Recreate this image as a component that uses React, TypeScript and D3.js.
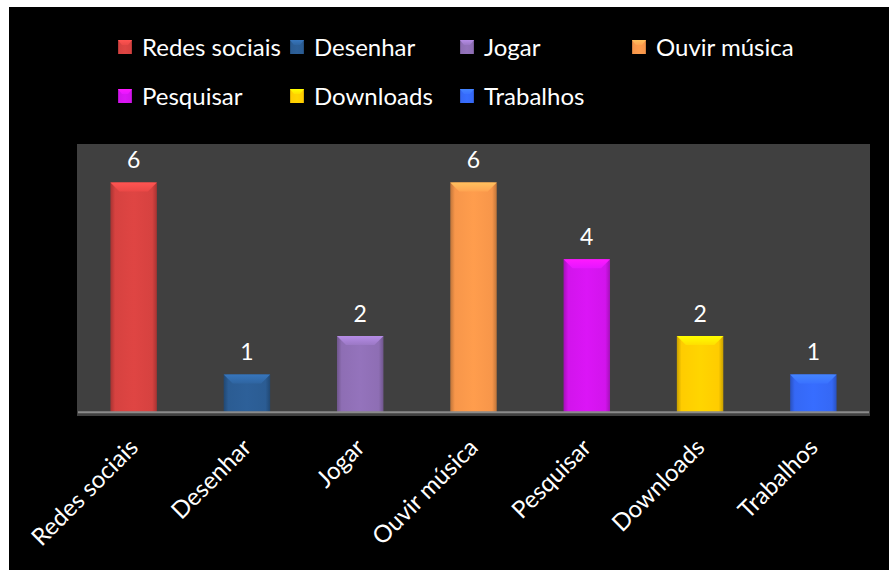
import React, { useEffect } from "react";
import * as d3 from "d3";

const categories = ["Redes sociais", "Desenhar", "Jogar", "Ouvir música", "Pesquisar", "Downloads", "Trabalhos"];
const values = [6, 1, 2, 6, 4, 2, 1];
const colors = ["#D64240", "#2B5C93", "#8E6EB4", "#F7964A", "#D214EC", "#FFCC00", "#3568F5"];
const yDomain = [0, 7];

const FONT = "Lato, 'Open Sans', sans-serif";

export default function App() {
  useEffect(() => {
    document.documentElement.style.background = "#000";
    document.body.style.background = "#000";
    document.body.style.overflow = "hidden";
  }, []);

  const W = 889, H = 570;
  const plot = { x0: 77, x1: 870, y0: 144, y1: 416 };
  const baseY = 412.8;
  const x = d3.scaleBand<string>().domain(categories).range([plot.x0, plot.x1]).paddingInner(0.59).paddingOuter(0.295);
  const y = d3.scaleLinear().domain(yDomain).range([baseY, plot.y0]);
  const bw = x.bandwidth();

  const legendCols = [118, 290, 460, 632];
  const legendRows = [56, 105];

  const lighten = (c: string, k: number) => d3.color(c)!.brighter(k).formatHex();
  const darken = (c: string, k: number) => d3.color(c)!.darker(k).formatHex();

  return (
    <svg width={W} height={H} style={{ position: "absolute", left: 0, top: 0, display: "block" }} fontFamily={FONT}>
      <defs>
        {colors.map((c, i) => (
          <linearGradient key={i} id={`g${i}`} x1="0" x2="1" y1="0" y2="0">
            <stop offset="0" stopColor={darken(c, 0.7)} />
            <stop offset="0.1" stopColor={c} />
            <stop offset="0.5" stopColor={lighten(c, 0.12)} />
            <stop offset="0.9" stopColor={c} />
            <stop offset="1" stopColor={darken(c, 0.7)} />
          </linearGradient>
        ))}
        {colors.map((c, i) => (
          <linearGradient key={"t" + i} id={`t${i}`} x1="0" x2="0" y1="0" y2="1">
            <stop offset="0" stopColor={lighten(c, 0.7)} />
            <stop offset="1" stopColor={lighten(c, 0.25)} />
          </linearGradient>
        ))}
      </defs>
      <rect x={0} y={0} width={W} height={H} fill="#fff" />
      <rect x={9} y={7} width={W - 9} height={H - 7} fill="#000" />
      <rect x={plot.x0} y={plot.y0} width={plot.x1 - plot.x0} height={plot.y1 - plot.y0} fill="#404040" />

      {categories.map((cat, i) => {
        const bx = x(cat)!;
        const top = y(values[i]);
        const h = baseY - top;
        const bev = Math.min(9, h / 3);
        return (
          <g key={cat}>
            <rect x={bx} y={top} width={bw} height={h} fill={`url(#g${i})`} />
            <path
              d={`M${bx},${top}L${bx + bw},${top}L${bx + bw - bev},${top + bev}L${bx + bev},${top + bev}Z`}
              fill={`url(#t${i})`}
            />
            <text x={bx + bw / 2} y={top - 14} textAnchor="middle" fill="#fff" fontSize={23}>
              {values[i]}
            </text>
          </g>
        );
      })}

      <line x1={plot.x0 + 1} x2={plot.x1 - 1} y1={baseY - 0.5} y2={baseY - 0.5} stroke="#8a8a8a" strokeWidth={2} />

      {categories.map((cat) => {
        const cx = x(cat)! + bw / 2;
        return (
          <text
            key={"l" + cat}
            transform={`translate(${cx + 6},${449}) rotate(-45)`}
            textAnchor="end"
            fill="#fff"
            fontSize={24}
          >
            {cat}
          </text>
        );
      })}

      {categories.map((cat, i) => {
        const col = i < 4 ? i : i - 4;
        const row = i < 4 ? 0 : 1;
        const lx = legendCols[col];
        const ly = legendRows[row];
        return (
          <g key={"lg" + cat}>
            <rect x={lx} y={ly - 16} width={14} height={14} fill={`url(#g${i})`} />
            <path d={`M${lx},${ly - 16}L${lx + 14},${ly - 16}L${lx + 10},${ly - 11}L${lx + 4},${ly - 11}Z`} fill={`url(#t${i})`} />
            <text x={lx + 24} y={ly} fill="#fff" fontSize={24}>
              {cat}
            </text>
          </g>
        );
      })}
    </svg>
  );
}
